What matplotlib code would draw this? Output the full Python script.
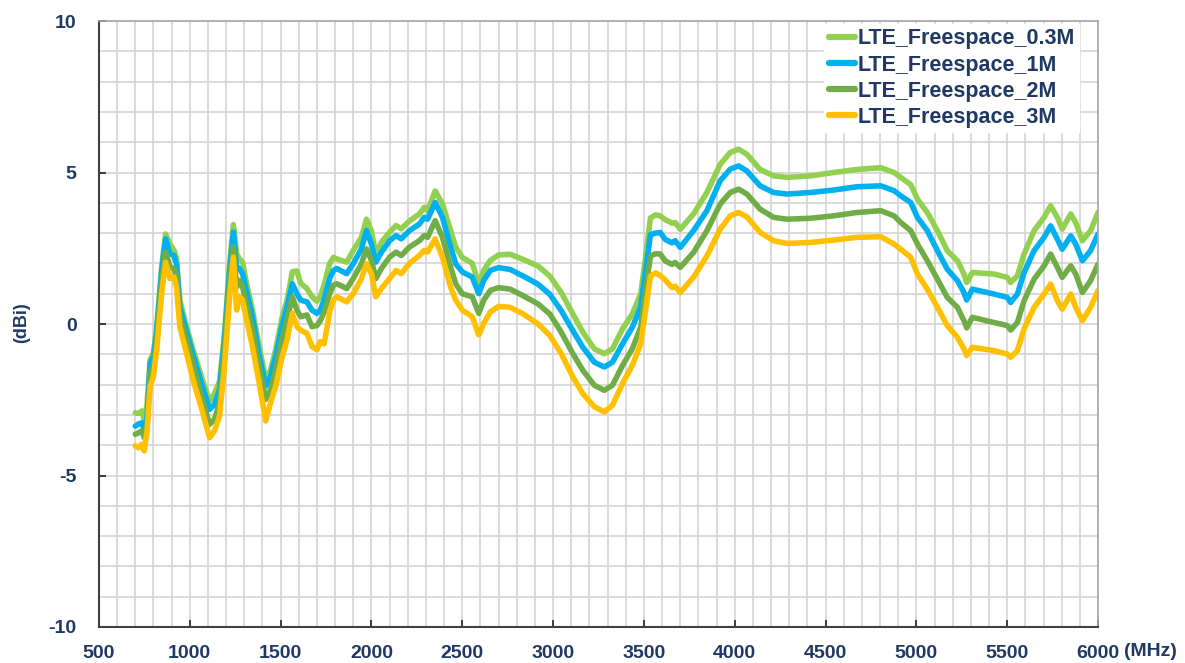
import matplotlib
matplotlib.use("Agg")
import matplotlib.pyplot as plt
from matplotlib.ticker import MultipleLocator

NAVY = "#1F3864"
GRID = "#D4D4D4"

freq_mhz = [
    700, 718, 736, 749, 764, 782, 800, 818, 845, 867, 891, 913, 927, 945, 982,
    1018, 1064, 1109, 1136, 1164, 1191, 1218, 1240, 1258, 1273, 1291, 1309, 1345,
    1382, 1418, 1445, 1473, 1509, 1536, 1564, 1590, 1610, 1645, 1673, 1700, 1718,
    1740, 1770, 1791, 1809, 1864, 1900, 1945, 1973, 2000, 2024, 2055, 2100, 2136,
    2164, 2209, 2264, 2291, 2309, 2351, 2391, 2436, 2464, 2500, 2555, 2591, 2618,
    2655, 2700, 2764, 2836, 2918, 2982, 3045, 3109, 3164, 3227, 3282, 3327, 3382,
    3436, 3482, 3509, 3536, 3564, 3590, 3618, 3655, 3672, 3700, 3773, 3847, 3920,
    3975, 4021, 4067, 4140, 4214, 4287, 4416, 4544, 4672, 4804, 4877, 4914, 4969,
    5006, 5060, 5116, 5170, 5226, 5262, 5277, 5308, 5427, 5500, 5519, 5556, 5593,
    5648, 5703, 5739, 5776, 5803, 5850, 5877, 5914, 5959, 6000,
]

gain_03m = [
    -2.93, -2.95, -2.87, -3.15, -2.7, -1.18, -0.96, -0.09, 1.88, 2.97, 2.64, 2.43, 2.15, 0.79, -0.09,
    -0.85, -1.73, -2.55, -2.3, -1.89, -0.31, 1.88, 3.28, 2.32, 2.15, 2.04, 1.44, 0.46,
    -0.74, -1.84, -1.51, -0.85, 0.24, 0.79, 1.72, 1.75, 1.35, 1.17, 0.9, 0.75, 0.9,
    1.3, 2.0, 2.2, 2.15, 2.04, 2.43, 2.86, 3.46, 3.08, 2.3, 2.7, 3.03, 3.25,
    3.14, 3.4, 3.63, 3.85, 3.74, 4.39, 3.96, 3.08, 2.54, 2.2, 2.0, 1.33, 1.77,
    2.1, 2.28, 2.3, 2.13, 1.91, 1.58, 1.04, 0.33, -0.27, -0.82, -0.98, -0.82, -0.16,
    0.33, 0.98, 2.19, 3.5, 3.6, 3.57, 3.44, 3.33, 3.35, 3.13, 3.63, 4.34, 5.27,
    5.66, 5.77, 5.6, 5.1, 4.89, 4.84, 4.89, 5.0, 5.1, 5.16, 5.0, 4.84, 4.6,
    4.12, 3.68, 3.08, 2.42, 2.09, 1.65, 1.37, 1.7, 1.65, 1.54, 1.37, 1.59, 2.31,
    3.08, 3.52, 3.9, 3.52, 3.13, 3.63, 3.35, 2.75, 3.08, 3.68,
]

gain_1m = [
    -3.37, -3.3, -3.26, -3.48, -3.15, -1.29, -1.07, -0.25, 1.72, 2.81, 2.32, 2.26, 1.99, 0.57, -0.25,
    -1.02, -1.95, -2.82, -2.66, -2.16, -0.52, 1.66, 3.03, 1.88, 1.83, 1.66, 1.17, 0.24,
    -1.02, -2.05, -1.73, -1.07, -0.03, 0.57, 1.33, 1.0, 0.79, 0.73, 0.46, 0.35, 0.45,
    0.8, 1.5, 1.77, 1.83, 1.66, 1.99, 2.48, 3.08, 2.64, 2.04, 2.37, 2.75, 2.92,
    2.81, 3.08, 3.3, 3.52, 3.46, 4.01, 3.52, 2.54, 1.99, 1.72, 1.55, 1.0, 1.44,
    1.77, 1.86, 1.8, 1.58, 1.31, 0.98, 0.44, -0.22, -0.77, -1.26, -1.42, -1.26, -0.66,
    -0.11, 0.55, 1.75, 2.95, 3.0, 3.02, 2.79, 2.68, 2.75, 2.53, 3.08, 3.74, 4.73,
    5.11, 5.22, 5.05, 4.56, 4.34, 4.29, 4.34, 4.42, 4.53, 4.56, 4.4, 4.23, 4.01,
    3.52, 3.08, 2.42, 1.81, 1.43, 1.04, 0.79, 1.15, 0.99, 0.88, 0.71, 0.99, 1.7,
    2.42, 2.86, 3.24, 2.8, 2.47, 2.91, 2.64, 2.09, 2.42, 2.97,
]

gain_2m = [
    -3.64, -3.59, -3.53, -3.75, -3.48, -1.62, -1.4, -0.52, 1.39, 2.37, 1.88, 1.83, 1.55, 0.24, -0.52,
    -1.34, -2.38, -3.31, -3.15, -2.6, -0.85, 1.33, 2.54, 1.22, 1.44, 1.22, 0.73, -0.2,
    -1.4, -2.49, -2.16, -1.51, -0.47, 0.13, 0.9, 0.46, 0.24, 0.3, -0.09, -0.05, 0.1,
    0.4, 1.0, 1.28, 1.33, 1.17, 1.5, 1.99, 2.48, 2.1, 1.5, 1.83, 2.21, 2.37,
    2.26, 2.54, 2.75, 2.92, 2.86, 3.41, 2.86, 1.88, 1.33, 1.0, 0.9, 0.35, 0.79,
    1.11, 1.2, 1.15, 0.93, 0.66, 0.33, -0.27, -0.98, -1.53, -2.02, -2.19, -2.02, -1.37,
    -0.82, -0.11, 1.09, 2.24, 2.32, 2.31, 2.08, 1.97, 2.03, 1.87, 2.36, 3.08, 3.96,
    4.34, 4.45, 4.29, 3.79, 3.52, 3.46, 3.49, 3.57, 3.68, 3.74, 3.57, 3.35, 3.08,
    2.64, 2.09, 1.48, 0.88, 0.55, 0.11, -0.13, 0.22, 0.05, -0.05, -0.2, 0.05, 0.77,
    1.48, 1.92, 2.31, 1.87, 1.54, 1.92, 1.65, 1.04, 1.43, 1.98,
]

gain_3m = [
    -4.02, -4.08, -3.97, -4.19, -3.58, -2.05, -1.73, -0.85, 1.0, 2.04, 1.5, 1.55, 1.22, -0.09, -0.96,
    -1.84, -2.77, -3.75, -3.53, -3.04, -1.4, 0.79, 2.21, 0.46, 0.9, 0.79, 0.24, -0.74,
    -1.95, -3.2, -2.6, -2.05, -1.07, -0.52, 0.35, -0.09, -0.2, -0.31, -0.74, -0.85, -0.58,
    -0.65, 0.4, 0.79, 0.9, 0.73, 1.0, 1.5, 1.99, 1.66, 0.9, 1.17, 1.5, 1.77,
    1.66, 2.0, 2.26, 2.43, 2.37, 2.81, 2.2, 1.22, 0.79, 0.46, 0.24, -0.36, 0.02,
    0.4, 0.58, 0.55, 0.33, 0.0, -0.38, -0.98, -1.75, -2.3, -2.73, -2.9, -2.68, -1.97,
    -1.37, -0.66, 0.44, 1.58, 1.69, 1.6, 1.45, 1.2, 1.25, 1.04, 1.54, 2.25, 3.13,
    3.57, 3.68, 3.54, 3.02, 2.75, 2.66, 2.69, 2.77, 2.86, 2.88, 2.64, 2.47, 2.2,
    1.65, 1.15, 0.55, -0.05, -0.44, -0.82, -1.04, -0.77, -0.88, -0.99, -1.1, -0.88, -0.16,
    0.55, 0.99, 1.32, 0.77, 0.49, 0.99, 0.55, 0.11, 0.55, 1.1,
]

series = [
    ("LTE_Freespace_0.3M", gain_03m, "#92D050"),
    ("LTE_Freespace_1M", gain_1m, "#00B0F0"),
    ("LTE_Freespace_2M", gain_2m, "#70AD47"),
    ("LTE_Freespace_3M", gain_3m, "#FFC000"),
]

plt.rcParams["font.family"] = ["Liberation Sans", "DejaVu Sans"]
plt.rcParams["font.weight"] = "bold"
plt.rcParams["axes.unicode_minus"] = False

fig = plt.figure(figsize=(11.85, 6.63), dpi=100, facecolor="white")
ax = fig.add_axes([0.0835, 0.0543, 0.8431, 0.914])

for label, values, color in series:
    ax.plot(freq_mhz, values, color=color, lw=4, label=label,
            solid_joinstyle="round", solid_capstyle="round")

ax.set_xlim(500, 6000)
ax.set_ylim(-10, 10)
ax.xaxis.set_major_locator(MultipleLocator(500))
ax.xaxis.set_minor_locator(MultipleLocator(100))
ax.yaxis.set_major_locator(MultipleLocator(5))
ax.yaxis.set_minor_locator(MultipleLocator(1))
ax.grid(which="both", color=GRID, lw=1.2)
ax.set_axisbelow(True)

ax.tick_params(which="major", direction="in", length=5, width=1.2,
               color="#202020", labelsize=14, labelcolor=NAVY)
ax.tick_params(which="minor", length=0)
ax.tick_params(axis="x", pad=13)
ax.tick_params(axis="y", pad=16)
for t in ax.get_xticklabels() + ax.get_yticklabels():
    t.set_fontweight("bold")

for side in ("left", "bottom"):
    ax.spines[side].set_color("#404040")
    ax.spines[side].set_linewidth(1.5)
for side in ("top", "right"):
    ax.spines[side].set_color("#A6A6A6")
    ax.spines[side].set_linewidth(1.2)

fig.text(0.0186, 0.514, "(dBi)", rotation=90, ha="center", va="center",
         fontsize=13, fontweight="bold", color=NAVY)
fig.text(0.9485, 0.0175, "(MHz)", ha="left", va="center",
         fontsize=14, fontweight="bold", color=NAVY)

leg = ax.legend(loc="upper left", bbox_to_anchor=(0.726, 0.995),
                fontsize=15.5, frameon=True, fancybox=False,
                facecolor="white", edgecolor="white", framealpha=1,
                handlelength=1.25, handletextpad=0.1, labelspacing=0.24,
                borderpad=0.2, borderaxespad=0)
for text in leg.get_texts():
    text.set_color(NAVY)
    text.set_fontweight("bold")
for line in leg.get_lines():
    line.set_linewidth(4.5)

fig.savefig("out.png", dpi=100, facecolor="white")
